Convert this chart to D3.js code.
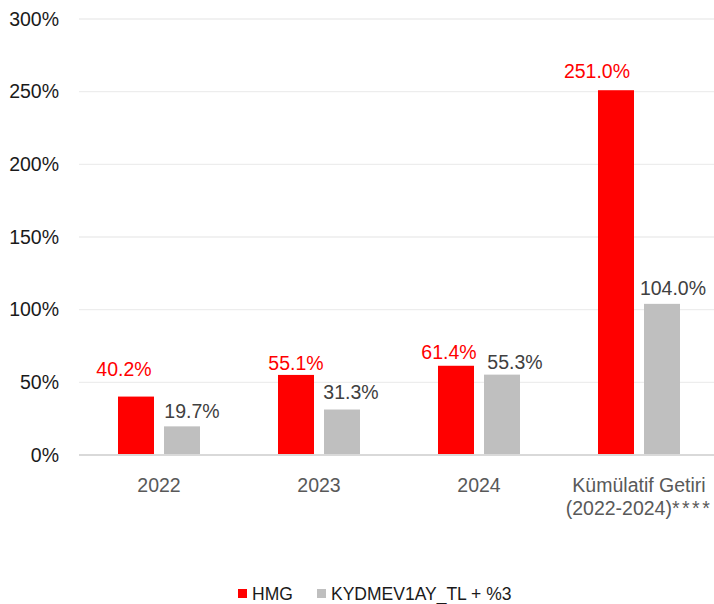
<!DOCTYPE html>
<html>
<head>
<meta charset="utf-8">
<script src="https://cdn.jsdelivr.net/npm/d3@7"></script>
<style>
  body { margin: 0; background: #fff; }
  text { font-family: "Liberation Sans", Arial, sans-serif; }
</style>
</head>
<body>
<div id="chart"></div>
<script>
const categories = ['2022', '2023', '2024', 'Kümülatif Getiri|(2022-2024)****'];
const series = ['HMG', 'KYDMEV1AY_TL + %3'];
const hmgValues = [40.2, 55.1, 61.4, 251.0];
const benchValues = [19.7, 31.3, 55.3, 104.0];
const yTicks = [0, 50, 100, 150, 200, 250, 300];

// label nudges, copied from the way labels sit in the original
const hmgShift = [[-12, -21], [0, -5], [-7, -7], [-19, -12]];
const benchShift = [[10, -8], [9, -11], [13, -6], [11, -9]];

const colors = ['#ff0000', '#bfbfbf'];
const labelColors = ['#ff0000', '#404040'];

const W = 714, H = 604;
const svg = d3.select('#chart').append('svg')
  .attr('width', W)
  .attr('height', H);

const x0 = d3.scaleBand().domain(categories).range([79, 719])
  .paddingInner(0.4875).paddingOuter(0.24375);
const x1 = d3.scaleBand().domain(series).range([0, x0.bandwidth()])
  .paddingInner(0.2174).paddingOuter(0);
const y = d3.scaleLinear().domain([0, 300]).range([455, 19]);

// grid
svg.append('g')
  .selectAll('line')
  .data(yTicks.filter(d => d > 0))
  .enter().append('line')
  .attr('x1', 79).attr('x2', 719)
  .attr('y1', d => y(d)).attr('y2', d => y(d))
  .attr('stroke', '#ededed')
  .attr('stroke-width', 1.3);

// y axis
const yAxis = svg.append('g')
  .attr('transform', 'translate(79,0)')
  .call(d3.axisLeft(y).tickValues(yTicks).tickFormat(d => d + '%').tickSize(0).tickPadding(20));
yAxis.select('.domain').remove();
yAxis.selectAll('text')
  .attr('fill', '#1a1a1a')
  .style('font-size', '19.5px')
  .style('font-family', '"Liberation Sans", Arial, sans-serif');

// bars
const rows = series.map((s, i) => ({ name: s, values: i === 0 ? hmgValues : benchValues, i }));

rows.forEach(r => {
  svg.append('g')
    .selectAll('rect')
    .data(r.values)
    .enter().append('rect')
    .attr('x', (d, j) => x0(categories[j]) + x1(r.name))
    .attr('y', d => y(d))
    .attr('width', x1.bandwidth())
    .attr('height', d => y(0) - y(d))
    .attr('fill', colors[r.i]);

  const shift = r.i === 0 ? hmgShift : benchShift;
  svg.append('g')
    .selectAll('text')
    .data(r.values)
    .enter().append('text')
    .attr('x', (d, j) => x0(categories[j]) + x1(r.name) + x1.bandwidth() / 2 + shift[j][0])
    .attr('y', (d, j) => y(d) + shift[j][1])
    .attr('text-anchor', 'middle')
    .attr('fill', labelColors[r.i])
    .style('font-size', '19.5px')
    .text(d => d.toFixed(1) + '%');
});

// baseline
svg.append('line')
  .attr('x1', 79).attr('x2', 719)
  .attr('y1', y(0)).attr('y2', y(0))
  .attr('stroke', '#d9d9d9')
  .attr('stroke-width', 2);

// x axis
const xAxis = svg.append('g')
  .attr('transform', `translate(0,${y(0)})`)
  .call(d3.axisBottom(x0).tickSize(0).tickFormat(''));
xAxis.select('.domain').remove();
xAxis.selectAll('.tick').each(function(d) {
  const t = d3.select(this).append('text')
    .attr('text-anchor', 'middle')
    .attr('fill', '#595959')
    .style('font-size', '19.5px');
  d.split('|').forEach((line, k) => {
    const m = line.match(/^(.*?)(\*+)$/);
    const ts = t.append('tspan').attr('x', 0).attr('y', 37 + k * 22.5);
    if (m) {
      ts.text(m[1]);
      t.append('tspan').attr('letter-spacing', '2.5px').text(m[2]);
    } else {
      ts.text(line);
    }
  });
});

// legend
const legend = svg.append('g');
const legendX = [238, 317];
series.forEach((s, i) => {
  legend.append('rect')
    .attr('x', legendX[i]).attr('y', 589)
    .attr('width', 9).attr('height', 9)
    .attr('fill', colors[i]);
  legend.append('text')
    .attr('x', legendX[i] + 14).attr('y', 600)
    .attr('fill', '#1a1a1a')
    .style('font-size', '17.5px')
    .text(s);
});
</script>
</body>
</html>
